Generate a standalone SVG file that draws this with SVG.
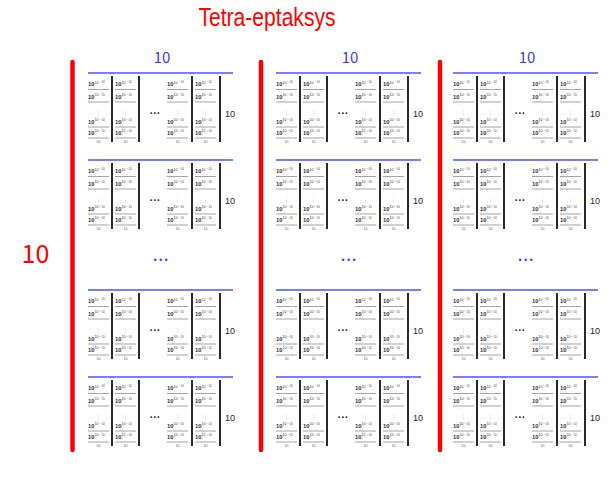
<svg xmlns="http://www.w3.org/2000/svg" xmlns:xlink="http://www.w3.org/1999/xlink" width="610" height="479" viewBox="0 0 610 479">
<style>
.title{font-family:"Liberation Sans",sans-serif;font-size:25px;fill:#ff0000;text-anchor:middle}
.red10{font-family:"Noto Sans CJK SC","Liberation Sans",sans-serif;font-size:25px;fill:#ff0000;text-anchor:middle}
.blue10{font-family:"Noto Sans CJK SC","Liberation Sans",sans-serif;font-size:15px;fill:#3a3af0;text-anchor:middle}
.bdots{font-family:"DejaVu Sans",sans-serif;font-size:8px;fill:#3a3af0;text-anchor:middle;letter-spacing:0.8px}
.e{font-family:"Liberation Sans",sans-serif;font-size:5.8px;font-weight:bold;fill:#333}
.sup{font-size:3.6px;font-weight:normal}
.sup2{font-size:2.7px;font-weight:normal}
.ul{stroke:#666;stroke-width:0.6}
.vd{font-family:"DejaVu Sans",sans-serif;font-size:5px;fill:#777;text-anchor:middle}
.s10{font-family:"Liberation Sans",sans-serif;font-size:3.6px;fill:#555;text-anchor:middle}
.bar{stroke:#111;stroke-width:1.8}
.kd{font-family:"DejaVu Sans",sans-serif;font-size:5px;font-weight:bold;fill:#222;text-anchor:middle;letter-spacing:0.4px}
.r10{font-family:"Liberation Sans",sans-serif;font-size:9px;fill:#222}
.bl{stroke:#4a55f0;stroke-width:1.5}
.rb{stroke:#ff0000;stroke-width:4.5;stroke-linecap:round}
</style>
<defs>
<g id="entry">
<text class="e" x="0" y="0">10<tspan class="sup" dy="-2.4">10</tspan><tspan class="sup2" dx="0.6" dy="-0.6">···10</tspan></text>
<line class="ul" x1="0" y1="3.5" x2="21" y2="3.5"/>
</g>
<g id="sc">
<use xlink:href="#entry" x="0" y="13"/>
<use xlink:href="#entry" x="0" y="25.5"/>
<text class="vd" x="10.5" y="42">⋮</text>
<use xlink:href="#entry" x="0" y="50.5"/>
<use xlink:href="#entry" x="0" y="61.5"/>
<text class="s10" x="10.5" y="69.5">10</text>
</g>
<g id="block">
<line class="bl" x1="0" y1="0" x2="145" y2="0"/>
<use xlink:href="#sc" x="0" y="0"/>
<use xlink:href="#sc" x="27" y="0"/>
<use xlink:href="#sc" x="79" y="0"/>
<use xlink:href="#sc" x="107" y="0"/>
<line class="bar" x1="24" y1="3" x2="24" y2="69"/>
<line class="bar" x1="51" y1="3" x2="51" y2="69"/>
<line class="bar" x1="104" y1="3" x2="104" y2="69"/>
<line class="bar" x1="132" y1="3" x2="132" y2="69"/>
<text class="kd" x="67" y="42">•••</text>
<text class="r10" x="137" y="44">10</text>
</g>
</defs>
<rect width="610" height="479" fill="#fff"/>
<text class="title" x="267" y="26" textLength="137" lengthAdjust="spacingAndGlyphs">Tetra-eptaksys</text>
<text class="red10" x="35.5" y="263">10</text>
<g id="connectors">
<line class="rb" x1="72.5" y1="62" x2="72.5" y2="450"/>
<line class="rb" x1="261" y1="62" x2="261" y2="450"/>
<line class="rb" x1="440" y1="62" x2="440" y2="450"/>
</g>
<g id="col1">
<text class="blue10" x="162" y="63">10</text>
<g id="c1b1"><use xlink:href="#block" x="88" y="73"/></g>
<g id="c1b2"><use xlink:href="#block" x="88" y="160"/></g>
<text class="bdots" x="161" y="263">•••</text>
<g id="c1b3"><use xlink:href="#block" x="88" y="290"/></g>
<g id="c1b4"><use xlink:href="#block" x="88" y="377"/></g>
</g>
<g id="col2">
<text class="blue10" x="350" y="63">10</text>
<g id="c2b1"><use xlink:href="#block" x="276" y="73"/></g>
<g id="c2b2"><use xlink:href="#block" x="276" y="160"/></g>
<text class="bdots" x="349" y="263">•••</text>
<g id="c2b3"><use xlink:href="#block" x="276" y="290"/></g>
<g id="c2b4"><use xlink:href="#block" x="276" y="377"/></g>
</g>
<g id="col3">
<text class="blue10" x="527" y="63">10</text>
<g id="c3b1"><use xlink:href="#block" x="453" y="73"/></g>
<g id="c3b2"><use xlink:href="#block" x="453" y="160"/></g>
<text class="bdots" x="526" y="263">•••</text>
<g id="c3b3"><use xlink:href="#block" x="453" y="290"/></g>
<g id="c3b4"><use xlink:href="#block" x="453" y="377"/></g>
</g>
</svg>
